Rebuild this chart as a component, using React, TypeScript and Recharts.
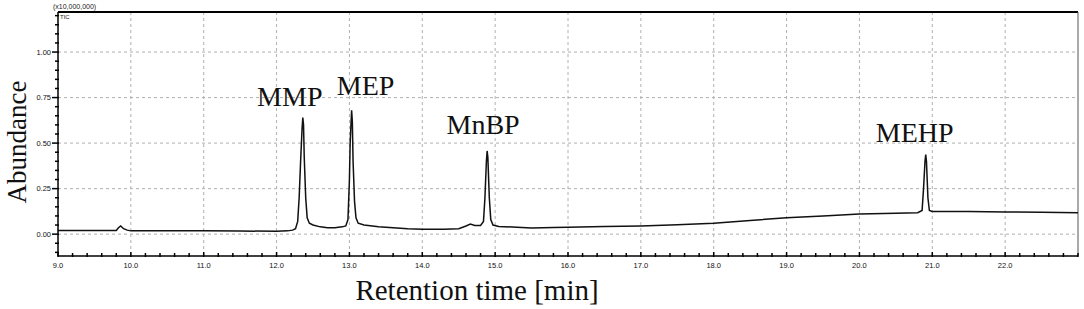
import React from "react";
import {
  CartesianGrid,
  Line,
  LineChart,
  ReferenceDot,
  ReferenceLine,
  XAxis,
  YAxis,
} from "recharts";

// retention time [min] and abundance (x10,000,000)
const retentionTime = [
  9.0, 9.5, 9.8, 9.83, 9.86, 9.9, 9.95, 10.0, 10.5, 11.0, 11.5, 12.0, 12.15,
  12.22, 12.26, 12.29, 12.31, 12.33, 12.35, 12.36, 12.37, 12.38, 12.4, 12.42,
  12.45, 12.5, 12.6, 12.7, 12.8, 12.9, 12.95, 12.98, 13.0, 13.01, 13.03, 13.04,
  13.05, 13.07, 13.09, 13.12, 13.2, 13.4, 13.6, 13.8, 14.0, 14.3, 14.5, 14.6,
  14.66, 14.72, 14.8, 14.84, 14.86, 14.88, 14.89, 14.9, 14.92, 14.94, 14.97,
  15.05, 15.3, 15.5, 15.8, 16.0, 16.5, 17.0, 17.5, 18.0, 18.5, 19.0, 19.5,
  20.0, 20.5, 20.8, 20.86, 20.88, 20.9, 20.91, 20.92, 20.94, 20.96, 21.0,
  21.5, 22.0, 22.5, 23.0,
];
const abundance = [
  0.02, 0.02, 0.02, 0.035, 0.045, 0.03, 0.022, 0.018, 0.018, 0.018, 0.017,
  0.016, 0.018, 0.022, 0.03, 0.07, 0.2, 0.4, 0.58, 0.64, 0.6, 0.42, 0.2, 0.09,
  0.06, 0.05, 0.04, 0.035, 0.035, 0.04, 0.045, 0.08, 0.3, 0.5, 0.68, 0.62,
  0.4, 0.18, 0.09, 0.06, 0.05, 0.04, 0.035, 0.03, 0.027, 0.027, 0.03, 0.045,
  0.055, 0.048, 0.048, 0.07, 0.2, 0.4, 0.457, 0.42, 0.2, 0.08, 0.05, 0.042,
  0.038, 0.034, 0.036, 0.038, 0.042, 0.045, 0.052, 0.06, 0.075, 0.09, 0.1,
  0.11, 0.115, 0.118, 0.13, 0.25, 0.4, 0.437, 0.4, 0.2, 0.13, 0.125, 0.125,
  0.122, 0.12, 0.118,
];

const peakNames = ["MMP", "MEP", "MnBP", "MEHP"];
const peakTimes = [12.36, 13.03, 14.89, 20.91];
const peakHeights = [0.64, 0.68, 0.457, 0.437];

const xMajorTicks = [9, 10, 11, 12, 13, 14, 15, 16, 17, 18, 19, 20, 21, 22];
const yMajorTicks = [0, 0.25, 0.5, 0.75, 1.0];

const X_MIN = 9;
const X_MAX = 23;
const Y_MIN = -0.12;
const Y_MAX = 1.22;

const data = retentionTime.map((t, i) => ({ t, v: abundance[i] }));

// minor tick every 0.2 min / 0.05 units
const xTicks: number[] = [];
for (let i = 0; i <= 70; i++) xTicks.push(Math.round((9 + i * 0.2) * 10) / 10);
const yTicks: number[] = [];
for (let i = -2; i <= 24; i++) yTicks.push(Math.round(i * 5) / 100);

const labelShift: Record<string, [number, number]> = {
  MMP: [-13, 12],
  MEP: [14, 15],
  MnBP: [-4, 17],
  MEHP: [-11, 13],
};

const tickFont = { fontFamily: "'Liberation Sans', Arial, sans-serif", fontSize: 7.5, fill: "#111" };

const XTick = (props: any) => {
  const { x, y, payload } = props;
  const v = payload.value as number;
  const major = xMajorTicks.includes(v);
  return (
    <g>
      <line x1={x} x2={x} y1={y + 1} y2={y - (major ? 4 : 3)} stroke="#000" strokeWidth={1.5} />
      {major && (
        <text x={x} y={y + 12} textAnchor="middle" {...tickFont}>
          {v.toFixed(1)}
        </text>
      )}
    </g>
  );
};

const YTick = (props: any) => {
  const { x, y, payload } = props;
  const v = payload.value as number;
  const major = yMajorTicks.some((m) => Math.abs(m - v) < 1e-6);
  return (
    <g>
      <line x1={major ? x - 6 : x - 3} x2={x + 1} y1={y} y2={y} stroke="#000" strokeWidth={1.5} />
      {major && (
        <text x={x - 7} y={y + 2.5} textAnchor="end" {...tickFont}>
          {v.toFixed(2)}
        </text>
      )}
    </g>
  );
};

const PeakLabel = (props: any) => {
  const { viewBox, name } = props;
  const [dx, dy] = labelShift[name];
  const cx = viewBox.x + viewBox.width / 2;
  const cy = viewBox.y + viewBox.height / 2;
  return (
    <text
      x={cx + dx}
      y={cy - dy}
      textAnchor="middle"
      fontFamily="'Liberation Serif', 'Times New Roman', serif"
      fontSize={28}
      fill="#111"
    >
      {name}
    </text>
  );
};

const serif = "'Liberation Serif', 'Times New Roman', serif";

export default function App() {
  return (
    <div style={{ position: "absolute", left: 0, top: 0, width: 1084, height: 309, background: "#fff" }}>
      <LineChart
        width={1084}
        height={309}
        data={data}
        margin={{ top: 12, right: 6, bottom: 0, left: 0 }}
      >
        <CartesianGrid
          stroke="#b0b0b0"
          strokeDasharray="3 3"
          verticalValues={xMajorTicks.slice(1)}
          horizontalValues={yMajorTicks}
        />
        <XAxis
          dataKey="t"
          type="number"
          domain={[X_MIN, X_MAX]}
          ticks={xTicks}
          interval={0}
          height={53}
          tickSize={0}
          tickMargin={0}
          tickLine={false}
          tick={<XTick />}
          axisLine={{ stroke: "#000", strokeWidth: 1.5 }}
          allowDataOverflow
        />
        <YAxis
          type="number"
          domain={[Y_MIN, Y_MAX]}
          ticks={yTicks}
          interval={0}
          width={58}
          tickSize={0}
          tickMargin={0}
          tickLine={false}
          tick={<YTick />}
          axisLine={{ stroke: "#000", strokeWidth: 1.5 }}
          allowDataOverflow
        />
        <ReferenceLine y={Y_MAX} stroke="#000" strokeWidth={2} />
        <ReferenceLine x={X_MAX} stroke="#555" strokeWidth={1} />
        <Line
          type="linear"
          dataKey="v"
          stroke="#111"
          strokeWidth={1.5}
          dot={false}
          isAnimationActive={false}
        />
        {peakNames.map((name, i) => (
          <ReferenceDot
            key={name}
            x={peakTimes[i]}
            y={peakHeights[i]}
            r={1}
            fill="none"
            stroke="none"
            label={<PeakLabel name={name} />}
          />
        ))}
      </LineChart>
      <svg
        width={1084}
        height={309}
        style={{ position: "absolute", left: 0, top: 0, pointerEvents: "none" }}
      >
        <text x={53} y={9} fontFamily="'Liberation Sans', Arial, sans-serif" fontSize={7} fill="#222">
          (x10,000,000)
        </text>
        <text x={60} y={19} fontFamily="'Liberation Sans', Arial, sans-serif" fontSize={6} fill="#222">
          TIC
        </text>
        <text
          x={26}
          y={142}
          transform="rotate(-90 26 142)"
          textAnchor="middle"
          fontFamily={serif}
          fontSize={27}
          fill="#111"
        >
          Abundance
        </text>
        <text x={477} y={300} textAnchor="middle" fontFamily={serif} fontSize={29} fill="#111">
          Retention time [min]
        </text>
      </svg>
    </div>
  );
}
